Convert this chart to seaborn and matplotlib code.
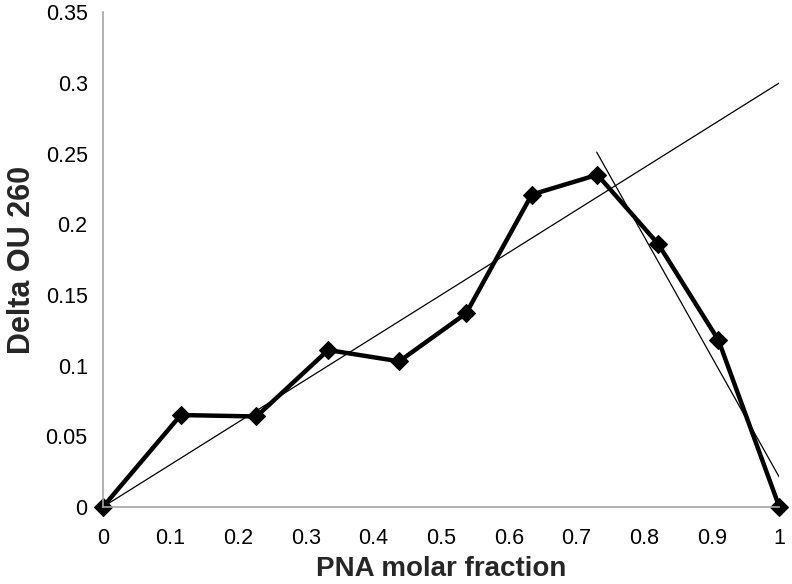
import numpy as np
import pandas as pd
import matplotlib
matplotlib.use("Agg")
import matplotlib.pyplot as plt
import seaborn as sns

# data
fraction = [0.0, 0.115, 0.227, 0.333, 0.438, 0.537, 0.634, 0.731, 0.821, 0.910, 1.0]
delta_ou = [0.0, 0.065, 0.064, 0.111, 0.103, 0.137, 0.221, 0.235, 0.186, 0.118, 0.0]

# two tangent lines
rise_x = [0.0, 1.0]
rise_y = [0.0, 0.30]
fall_x = [0.73, 1.0]
fall_y = [0.251, 0.021]

xticks = [0, 0.1, 0.2, 0.3, 0.4, 0.5, 0.6, 0.7, 0.8, 0.9, 1]
xticklabels = ["0", "0.1", "0.2", "0.3", "0.4", "0.5", "0.6", "0.7", "0.8", "0.9", "1"]
yticks = [0, 0.05, 0.1, 0.15, 0.2, 0.25, 0.3, 0.35]
yticklabels = ["0", "0.05", "0.1", "0.15", "0.2", "0.25", "0.3", "0.35"]

sns.set_style("white")
plt.rcParams['font.family'] = ['Liberation Sans', 'DejaVu Sans']

fig = plt.figure(figsize=(7.92, 5.84), dpi=100)
ax = fig.add_axes([0.130, 0.132, 0.854, 0.847])

df = pd.DataFrame({"x": fraction, "y": delta_ou})

sns.lineplot(x=rise_x, y=rise_y, ax=ax, color="black", linewidth=0.9)
sns.lineplot(x=fall_x, y=fall_y, ax=ax, color="black", linewidth=0.9)
sns.lineplot(data=df, x="x", y="y", ax=ax, color="black", linewidth=3.2,
             marker="D", markersize=9, markeredgecolor="black", clip_on=False)

ax.set_xlim(0, 1)
ax.set_ylim(0, 0.35)
ax.set_xticks(xticks)
ax.set_xticklabels(xticklabels)
ax.set_yticks(yticks)
ax.set_yticklabels(yticklabels)

for s in ["top", "right"]:
    ax.spines[s].set_visible(False)
for s in ["left", "bottom"]:
    ax.spines[s].set_color("#a6a6a6")
    ax.spines[s].set_linewidth(1.2)

ax.tick_params(axis="both", direction="out", length=6, width=1.2, color="#a6a6a6",
               labelsize=15.5, labelcolor="black", pad=5)
ax.tick_params(axis="x", pad=9)

ax.set_xlabel("PNA molar fraction", fontsize=20, fontweight="bold", labelpad=5)
ax.set_ylabel("Delta OU 260", fontsize=22, fontweight="bold", labelpad=6)

fig.savefig("out.png", dpi=100)
